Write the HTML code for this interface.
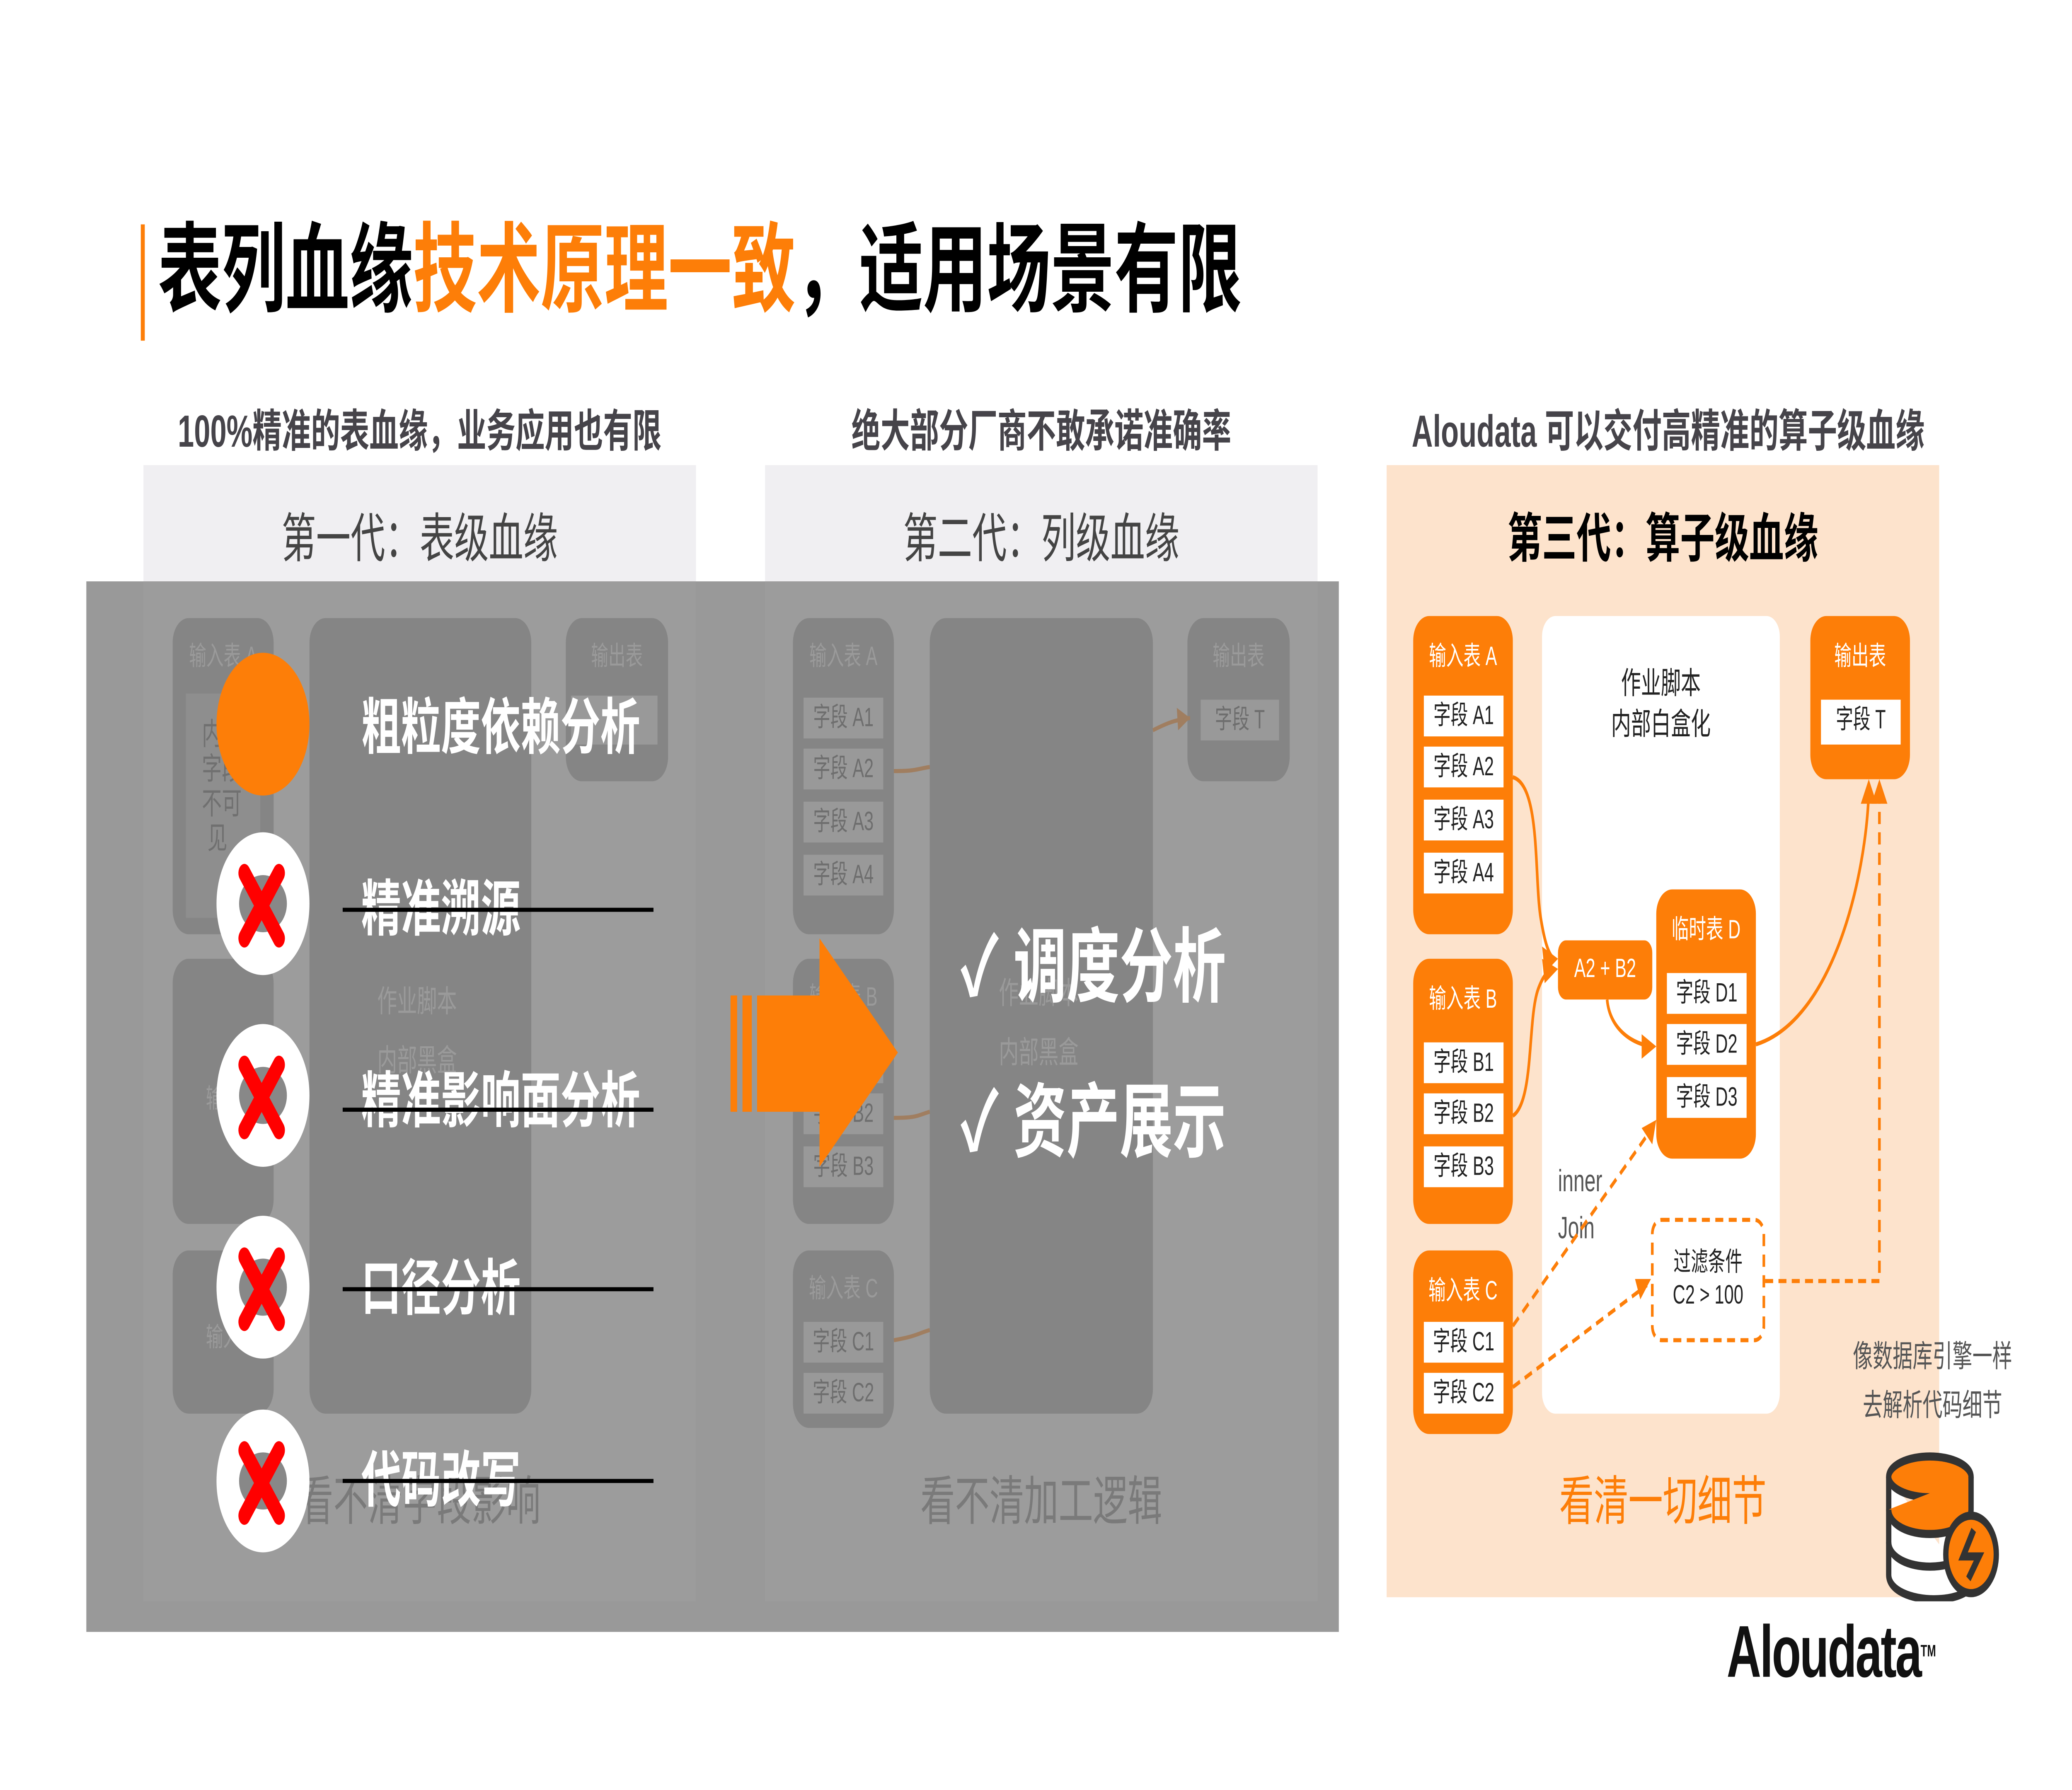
<!DOCTYPE html>
<html><head><meta charset="utf-8"><style>
html,body{margin:0;padding:0;background:#fff;overflow:hidden;width:100%;height:100%}
#root{position:absolute;left:0;top:0;width:100vw;height:100vh;display:block}
#s{position:relative;width:1560px;height:878px;font-family:"Liberation Sans","Noto Sans CJK SC",sans-serif;overflow:hidden}
.a{position:absolute}
.c{position:absolute;text-align:center;white-space:nowrap}
.ob{position:absolute;background:#fd7e08;border-radius:12px}
.gb{position:absolute;background:#858585;border-radius:12px}
.wf{position:absolute;background:#fff;font-size:13px;color:#222;text-align:center;line-height:20px;height:20px}
.gf{position:absolute;background:#999;font-size:13px;color:#6e6e6e;text-align:center;line-height:20px;height:20px}
.ot{position:absolute;color:#fff;font-size:13px;text-align:center;width:100%}
.gt{position:absolute;color:#9a9a9a;font-size:13px;text-align:center;width:100%}
.cir{position:absolute;width:70px;height:70px;border-radius:50%;background:#fff}
.cir .in{position:absolute;left:17px;top:21px;width:36px;height:28px;border-radius:50%;background:#888}
.big{position:absolute;color:#fff;font-weight:bold;font-size:30px;white-space:nowrap;line-height:36px}
.st{position:absolute;left:258px;width:234px;height:2px;background:#000}
</style></head><body>
<svg id="root" viewBox="0 0 1560 877.5" preserveAspectRatio="none" xmlns="http://www.w3.org/2000/svg"><foreignObject x="0" y="0" width="1560" height="878"><div xmlns="http://www.w3.org/1999/xhtml" id="s">
<div class="a" style="left:106px;top:110px;width:3px;height:57px;background:#fd7e08"></div>
<div class="a" style="left:119px;top:104px;font-size:48px;font-weight:bold;line-height:60px;white-space:nowrap;color:#000">表列血缘<span style="color:#fd7e08">技术原理一致</span>，适用场景有限</div>
<div class="c" style="left:108px;width:416px;top:194px;font-size:22px;font-weight:bold;color:#46444a">100%精准的表血缘，业务应用也有限</div>
<div class="c" style="left:576px;width:416px;top:194px;font-size:22px;font-weight:bold;color:#46444a">绝大部分厂商不敢承诺准确率</div>
<div class="c" style="left:1030px;width:452px;top:194px;font-size:22px;font-weight:bold;color:#46444a">Aloudata 可以交付高精准的算子级血缘</div>
<div class="a" style="left:108px;top:228px;width:416px;height:557px;background:#f0eff2"></div>
<div class="a" style="left:576px;top:228px;width:416px;height:557px;background:#f0eff2"></div>
<div class="c" style="left:108px;width:416px;top:244px;font-size:26px;color:#444">第一代：表级血缘</div>
<div class="c" style="left:576px;width:416px;top:244px;font-size:26px;color:#444">第二代：列级血缘</div>
<div class="a" style="left:65px;top:285px;width:943px;height:515px;background:#999"></div>
<div class="a" style="left:108px;top:285px;width:416px;height:500px;background:#9c9c9c"></div>
<div class="a" style="left:576px;top:285px;width:416px;height:500px;background:#9c9c9c"></div>
<div class="gb" style="left:130px;top:303px;width:76px;height:155px"><div class="gt" style="top:8px">输入表 A</div></div>
<div class="a" style="left:140px;top:340px;width:56px;height:110px;background:#8e8e8e;color:#707070;font-size:15px;line-height:17px;padding:12px 0 0 12px;box-sizing:border-box">内<br/>字段<br/>不可<br/>&#160;见</div>
<div class="gb" style="left:130px;top:470px;width:76px;height:130px"><div class="gt" style="top:58px">输入</div></div>
<div class="gb" style="left:130px;top:613px;width:76px;height:80px"><div class="gt" style="top:32px">输入</div></div>
<div class="gb" style="left:233px;top:303px;width:167px;height:390px"></div>
<div class="a" style="left:284px;top:477px;color:#9a9a9a;font-size:15px;line-height:29px">作业脚本<br/>内部黑盒</div>
<div class="gb" style="left:426px;top:303px;width:77px;height:80px"><div class="gt" style="top:8px">输出表</div></div>
<div class="a" style="left:430px;top:341px;width:65px;height:24px;background:#999"></div>
<div class="c" style="left:108px;width:416px;top:716px;font-size:26px;color:#7a7a7a">看不清字段影响</div>
<div class="a" style="left:163px;top:320px;width:70px;height:70px;border-radius:50%;background:#fd7e08"></div>
<div class="cir" style="left:163px;top:408px"><div class="in"></div></div>
<div class="cir" style="left:163px;top:502px"><div class="in"></div></div>
<div class="cir" style="left:163px;top:596px"><div class="in"></div></div>
<div class="cir" style="left:163px;top:691px"><div class="in"></div></div>
<svg class="a" style="left:0;top:0" width="1560" height="878">
<g stroke="#f00" stroke-width="9" stroke-linecap="round">
<path d="M184 428L210 460M210 428L184 460"/>
<path d="M184 522L210 554M210 522L184 554"/>
<path d="M184 616L210 648M210 616L184 648"/>
<path d="M184 711L210 743M210 711L184 743"/>
</g></svg>
<div class="big" style="left:272px;top:340px">粗粒度依赖分析</div>
<div class="big" style="left:272px;top:429px">精准溯源</div>
<div class="big" style="left:272px;top:523px">精准影响面分析</div>
<div class="big" style="left:272px;top:615px">口径分析</div>
<div class="big" style="left:272px;top:709px">代码改写</div>
<div class="st" style="top:445px"></div>
<div class="st" style="top:543px"></div>
<div class="st" style="top:631px"></div>
<div class="st" style="top:725px"></div>
<div class="gb" style="left:597px;top:303px;width:76px;height:155px"><div class="gt" style="top:8px">输入表 A</div>
<div class="gf" style="left:8px;top:39px;width:60px">字段 A1</div><div class="gf" style="left:8px;top:64px;width:60px">字段 A2</div><div class="gf" style="left:8px;top:90px;width:60px">字段 A3</div><div class="gf" style="left:8px;top:116px;width:60px">字段 A4</div></div>
<div class="gb" style="left:597px;top:470px;width:76px;height:130px"><div class="gt" style="top:8px">输入表 B</div>
<div class="gf" style="left:8px;top:41px;width:60px">字段 B1</div><div class="gf" style="left:8px;top:66px;width:60px">字段 B2</div><div class="gf" style="left:8px;top:92px;width:60px">字段 B3</div></div>
<div class="gb" style="left:597px;top:613px;width:76px;height:87px"><div class="gt" style="top:8px">输入表 C</div>
<div class="gf" style="left:8px;top:35px;width:60px">字段 C1</div><div class="gf" style="left:8px;top:60px;width:60px">字段 C2</div></div>
<div class="gb" style="left:700px;top:303px;width:168px;height:390px"></div>
<div class="a" style="left:752px;top:473px;color:#9a9a9a;font-size:15px;line-height:29px">作业脚本<br/>内部黑盒</div>
<div class="gb" style="left:894px;top:303px;width:77px;height:80px"><div class="gt" style="top:8px">输出表</div>
<div class="gf" style="left:10px;top:40px;width:59px">字段 T</div></div>
<svg class="a" style="left:0;top:0" width="1560" height="878"><g stroke="#a07e60" stroke-width="2" fill="none">
<path d="M673 378C690 378 690 377 700 376"/><path d="M673 548C690 548 690 547 700 545"/><path d="M673 657C690 655 690 654 700 652"/><path d="M868 358C880 354 885 353 896 352"/></g>
<path d="M896 352L886 347L887 358Z" fill="#a07e60"/></svg>
<div class="c" style="left:576px;width:416px;top:716px;font-size:26px;color:#7a7a7a">看不清加工逻辑</div>
<div class="a" style="left:550px;top:488px;width:5px;height:57px;background:#fd7e08"></div>
<div class="a" style="left:559px;top:488px;width:7px;height:57px;background:#fd7e08"></div>
<svg class="a" style="left:0;top:0" width="1560" height="878"><path d="M570 488H617V460L676 516L617 572V545H570Z" fill="#fd7e08"/></svg>
<div class="big" style="left:723px;top:452px;font-size:40px;line-height:46px">✓ 调度分析</div>
<div class="big" style="left:723px;top:528px;font-size:40px;line-height:46px">✓ 资产展示</div>
<div class="a" style="left:1044px;top:228px;width:416px;height:555px;background:#fde3cc"></div>
<div class="c" style="left:1044px;width:416px;top:244px;font-size:26px;font-weight:bold;color:#000">第三代：算子级血缘</div>
<div class="a" style="left:1161px;top:302px;width:179px;height:391px;background:#fff;border-radius:10px"></div>
<div class="c" style="left:1161px;width:179px;top:326px;font-size:15px;line-height:20px;color:#222">作业脚本<br/>内部白盒化</div>
<div class="ob" style="left:1064px;top:302px;width:75px;height:156px"><div class="ot" style="top:9px">输入表 A</div>
<div class="wf" style="left:8px;top:39px;width:60px">字段 A1</div><div class="wf" style="left:8px;top:64px;width:60px">字段 A2</div><div class="wf" style="left:8px;top:90px;width:60px">字段 A3</div><div class="wf" style="left:8px;top:116px;width:60px">字段 A4</div></div>
<div class="ob" style="left:1064px;top:470px;width:75px;height:130px"><div class="ot" style="top:9px">输入表 B</div>
<div class="wf" style="left:8px;top:41px;width:60px">字段 B1</div><div class="wf" style="left:8px;top:66px;width:60px">字段 B2</div><div class="wf" style="left:8px;top:92px;width:60px">字段 B3</div></div>
<div class="ob" style="left:1064px;top:613px;width:75px;height:90px"><div class="ot" style="top:9px">输入表 C</div>
<div class="wf" style="left:8px;top:35px;width:60px">字段 C1</div><div class="wf" style="left:8px;top:60px;width:60px">字段 C2</div></div>
<div class="ob" style="left:1173px;top:461px;width:71px;height:29px;border-radius:6px"><div class="ot" style="top:6px">A2 + B2</div></div>
<div class="ob" style="left:1247px;top:436px;width:75px;height:132px"><div class="ot" style="top:9px">临时表 D</div>
<div class="wf" style="left:8px;top:41px;width:60px">字段 D1</div><div class="wf" style="left:8px;top:66px;width:60px">字段 D2</div><div class="wf" style="left:8px;top:92px;width:60px">字段 D3</div></div>
<div class="ob" style="left:1363px;top:302px;width:75px;height:80px"><div class="ot" style="top:9px">输出表</div>
<div class="wf" style="left:8px;top:41px;width:60px;height:22px">字段 T</div></div>
<div class="a" style="left:1243px;top:597px;width:86px;height:61px;border:2px dashed #fd7e08;border-radius:8px;box-sizing:border-box"></div>
<div class="c" style="left:1243px;width:86px;top:611px;font-size:13px;line-height:16px;color:#222">过滤条件<br/>C2 &gt; 100</div>
<div class="a" style="left:1173px;top:568px;font-size:15px;line-height:23px;color:#555">inner<br/>Join</div>
<svg class="a" style="left:0;top:0" width="1560" height="878">
<g stroke="#fd7e08" stroke-width="2" fill="none">
<path d="M1139 381C1160 385 1155 430 1160 450C1163 462 1166 468 1170 470"/>
<path d="M1139 547C1155 540 1150 500 1158 485C1162 478 1165 476 1170 475"/>
<path d="M1210 490C1212 505 1230 512 1244 513"/>
<path d="M1322 512C1380 500 1405 430 1407 388"/>
<g stroke-dasharray="6 4">
<path d="M1139 650L1244 553"/>
<path d="M1139 680L1240 630"/>
<path d="M1329 628H1415V390"/>
</g></g>
<g fill="#fd7e08">
<path d="M1173 470L1161 464L1163 477Z"/>
<path d="M1173 475L1161 470L1163 482Z"/>
<path d="M1247 513L1236 507L1236 519Z"/>
<path d="M1407 382L1401 394L1413 394Z"/>
<path d="M1415 382L1409 394L1421 394Z"/>
<path d="M1247 549L1236 553L1244 561Z"/>
<path d="M1243 627L1231 627L1235 637Z"/>
</g></svg>
<div class="c" style="left:1380px;width:150px;top:654px;font-size:15px;line-height:24px;color:#555">像数据库引擎一样<br/>去解析代码细节</div>
<div class="c" style="left:1044px;width:416px;top:716px;font-size:26px;color:#fd7e08">看清一切细节</div>
<svg class="a" style="left:1418px;top:710px" width="90" height="75">
<g stroke="#333" stroke-width="4">
<path d="M4 14V62C4 70 22 74 38 74C50 74 62 72 66 68" fill="#fff"/>
<ellipse cx="35" cy="14" rx="31" ry="10" fill="#fd7e08"/>
<path d="M4 30C4 38 20 42 35 42C50 42 66 38 66 30V14" fill="#fd7e08"/>
<path d="M4 46C4 54 20 58 35 58C46 58 54 56 58 54" fill="none"/>
<circle cx="66" cy="52" r="19" fill="#fd7e08"/>
<path d="M68 40L60 53H72L64 64" fill="none" stroke-width="4"/>
</g></svg>
<div class="a" style="left:1300px;top:788px;font-size:36px;font-weight:bold;color:#111;letter-spacing:-1px;line-height:44px">Aloudata<span style="font-size:8px;vertical-align:top;letter-spacing:0">TM</span></div>
</div></foreignObject></svg>
</body></html>
